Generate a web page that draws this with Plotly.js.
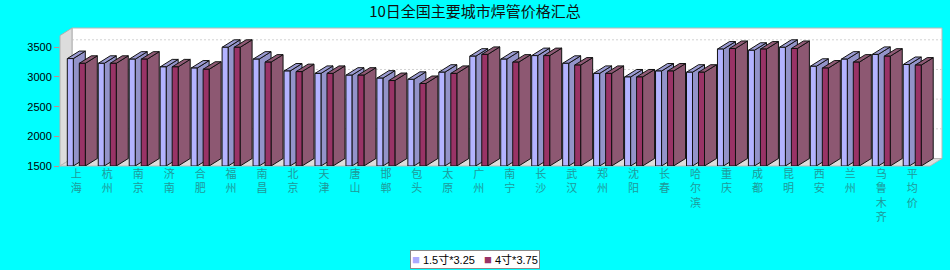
<!DOCTYPE html>
<html><head><meta charset="utf-8">
<script src="https://cdn.plot.ly/plotly-3.0.1.min.js"></script>
<style>html,body{margin:0;padding:0;background:#00ffff;}#chart{width:950px;height:270px;}</style>
</head><body><div id="chart"></div>
<script>
// ---------------- data ----------------
const cities = ['上海','杭州','南京','济南','合肥','福州','南昌','北京','天津','唐山','邯郸','包头','太原','广州','南宁','长沙','武汉','郑州','沈阳','长春','哈尔滨','重庆','成都','昆明','西安','兰州','乌鲁木齐','平均价'];
const seriesNames = ['1.5寸*3.25', '4寸*3.75'];
const series1 = [3310,3230,3300,3170,3150,3500,3300,3100,3060,3030,2980,2960,3080,3350,3300,3360,3230,3060,3000,3100,3080,3470,3450,3500,3180,3300,3380,3210];
const series2 = [3230,3230,3300,3170,3130,3500,3250,3090,3060,3030,2940,2890,3060,3380,3250,3360,3200,3060,3000,3100,3080,3480,3470,3480,3150,3250,3350,3200];
const yTickValues = [1500, 2000, 2500, 3000, 3500];
const gridValues = [2000, 2500, 3000, 3500];
const tickLabels = cities.map(c => Array.from(c).join('<br>'));

// ---------------- geometry / style ----------------
const PL = 60, PR = 942, PT = 28, PB = 166;
const X0_PX = 76.3, STEP_PX = 30.96;
const xMin = -(X0_PX - PL) / STEP_PX;
const xMax = xMin + (PR - PL) / STEP_PX;
const yMin = 1500, yPerPx = 2000 / 118.7;
const yMax = yMin + (PB - PT) * yPerPx;
const DXpx = 12, DYpx = 7.5, FWpx = 6;
const dx = DXpx / STEP_PX, dy = DYpx * yPerPx, fw = FWpx / STEP_PX;
const offsets = [-9 / STEP_PX, 3 / STEP_PX];
const colors = [
  {front: '#b3b3ff', side: '#9393c9', top: '#9b9bd2', legend: '#aaaaff'},
  {front: '#993366', side: '#8d5872', top: '#8f5a75', legend: '#993366'}
];

function faces(vals, off) {
  const f = {x: [], y: []}, s = {x: [], y: []}, t = {x: [], y: []};
  vals.forEach((v, i) => {
    const L = i + off, R = L + fw;
    f.x.push(L, L, R, R, L, null); f.y.push(yMin, v, v, yMin, yMin, null);
    s.x.push(R, R, R + dx, R + dx, R, null); s.y.push(yMin, v, v + dy, yMin + dy, yMin, null);
    t.x.push(L, L + dx, R + dx, R, L, null); t.y.push(v, v + dy, v + dy, v, v, null);
  });
  return {front: f, side: s, top: t};
}

const traces = [];
[series1, series2].forEach((vals, k) => {
  const fc = faces(vals, offsets[k]);
  ['side', 'top', 'front'].forEach(part => {
    traces.push({
      type: 'scatter', mode: 'lines', x: fc[part].x, y: fc[part].y,
      name: seriesNames[k], fill: 'toself', fillcolor: colors[k][part],
      line: {color: '#111', width: 1}, showlegend: false, hoverinfo: 'skip'
    });
  });
});

const fx = px => (px - PL) / (PR - PL);
const fy = py => (PB - py) / (PB - PT);
const shapes = [
  {type: 'rect', xref: 'paper', yref: 'paper', x0: fx(72), x1: 1, y0: fy(158.5), y1: 1,
   fillcolor: '#ffffff', line: {color: '#b8b8b8', width: 1}, layer: 'below'}
];
gridValues.forEach(v => shapes.push({type: 'line', xref: 'paper', yref: 'y', x0: fx(72), x1: 1,
  y0: v + dy, y1: v + dy, line: {color: '#d2d2d2', width: 1, dash: '2px,2px'}, layer: 'below'}));
shapes.push({type: 'path', xref: 'paper', yref: 'paper',
  path: `M${fx(60)},${fy(166)} L${fx(60)},${fy(35.5)} L${fx(72)},${fy(28)} L${fx(72)},${fy(158.5)} Z`,
  fillcolor: '#dcdcdc', line: {color: '#b0b0b0', width: 1}, layer: 'below'});
shapes.push({type: 'path', xref: 'paper', yref: 'paper',
  path: `M${fx(60)},${fy(166)} L${fx(72)},${fy(158.5)} L1,${fy(158.5)} L${fx(930)},${fy(166)} Z`,
  fillcolor: '#dcdcdc', line: {color: '#b8b8b8', width: 1}, layer: 'below'});

// compact legend box (as in the original chart)
const legendText = seriesNames.map((n, k) =>
  `<span style="color:${colors[k].legend};font-size:13px">■</span>\u00a0${n}`).join('\u00a0\u00a0\u00a0');

const layout = {
  width: 950, height: 270,
  margin: {l: PL, r: 950 - PR, t: PT, b: 270 - PB, pad: 0},
  paper_bgcolor: '#00ffff', plot_bgcolor: 'rgba(0,0,0,0)',
  title: {text: '10日全国主要城市焊管价格汇总', x: 0.5, xref: 'container', xanchor: 'center',
          y: 1 - 12 / 270, yref: 'container', yanchor: 'middle',
          font: {family: 'Noto Sans CJK SC, sans-serif', size: 15, color: '#111111'}},
  xaxis: {range: [xMin, xMax], tickmode: 'array', tickvals: cities.map((_, i) => i), ticktext: tickLabels,
          showgrid: false, zeroline: false, showline: false, ticks: '', tickangle: 0,
          tickfont: {family: 'Noto Sans CJK SC, sans-serif', size: 11, color: '#1f9a9a'}},
  yaxis: {range: [yMin, yMax], tickmode: 'array', tickvals: yTickValues,
          showgrid: false, zeroline: false, showline: false, ticks: 'outside', ticklen: 5,
          tickcolor: '#cc8888', tickwidth: 1,
          tickfont: {family: 'Liberation Sans, DejaVu Sans, sans-serif', size: 11, color: '#000000'}},
  shapes: shapes,
  showlegend: false,
  annotations: [{
    text: legendText, showarrow: false, xref: 'paper', yref: 'paper',
    x: fx(475), y: fy(259.5), xanchor: 'center', yanchor: 'middle',
    bgcolor: '#ffffff', bordercolor: '#8a8a8a', borderwidth: 1, borderpad: 1,
    font: {family: 'Liberation Sans, Noto Sans CJK SC, sans-serif', size: 11, color: '#000'}
  }]
};

Plotly.newPlot('chart', traces, layout, {staticPlot: true, displayModeBar: false});
</script>
</body></html>
